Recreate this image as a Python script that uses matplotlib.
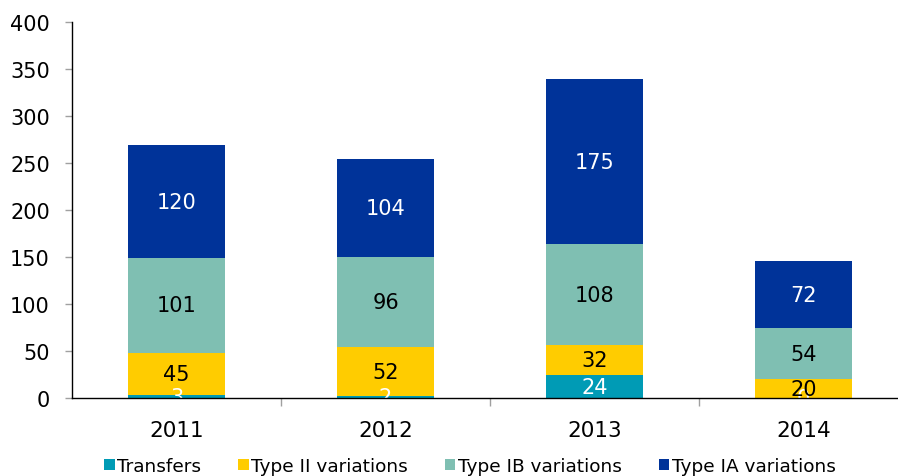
import matplotlib.pyplot as plt
import numpy as np

years = ['2011', '2012', '2013', '2014']
transfers = [3, 2, 24, 0]
type_ii = [45, 52, 32, 20]
type_ib = [101, 96, 108, 54]
type_ia = [120, 104, 175, 72]

series = [
    ('Transfers', transfers, '#009BB5', 'white'),
    ('Type II variations', type_ii, '#FFCC00', 'black'),
    ('Type IB variations', type_ib, '#7FBFB2', 'black'),
    ('Type IA variations', type_ia, '#003399', 'white'),
]

fig = plt.figure(figsize=(8.98, 4.77), dpi=100)
ax = fig.add_axes([72/898, 1 - 399/477, (898-72)/898, (399-23)/477])

x = np.arange(len(years))
bottom = np.zeros(len(years))
for name, vals, col, tcol in series:
    vals = np.array(vals, dtype=float)
    ax.bar(x, vals, 0.46, bottom=bottom, color=col, label=name, zorder=2)
    for xi, b, v in zip(x, bottom, vals):
        ax.text(xi, b + v/2, f'{int(v)}', ha='center', va='center',
                color=tcol, fontsize=15, clip_on=True, zorder=3)
    bottom += vals

ax.set_xlim(-0.5, 3.452)
ax.set_ylim(0, 400)
ax.set_yticks(np.arange(0, 401, 50))
ax.set_xticks(x)
ax.set_xticklabels(years)
ax.set_xticks(np.arange(0.5, 3, 1), minor=True)
ax.tick_params(axis='x', which='major', length=0, pad=16, labelsize=15.5)
ax.tick_params(axis='x', which='minor', length=6, color='#A0A0A0', width=1, direction='out')
ax.tick_params(axis='y', length=5, color='#A0A0A0', width=1, labelsize=15, pad=11)

ax.spines['right'].set_visible(False)
ax.spines['top'].set_visible(False)
for s in ['left', 'bottom']:
    ax.spines[s].set_color('black')
    ax.spines[s].set_linewidth(1)
    ax.spines[s].set_zorder(4)

leg = fig.legend(loc='center', bbox_to_anchor=(470/898, 1 - 467/477), ncol=4,
                 frameon=False, fontsize=13.3, handlelength=0.55, handleheight=0.55,
                 handletextpad=0.15, columnspacing=2.0)

fig.savefig('out.png', dpi=100)
